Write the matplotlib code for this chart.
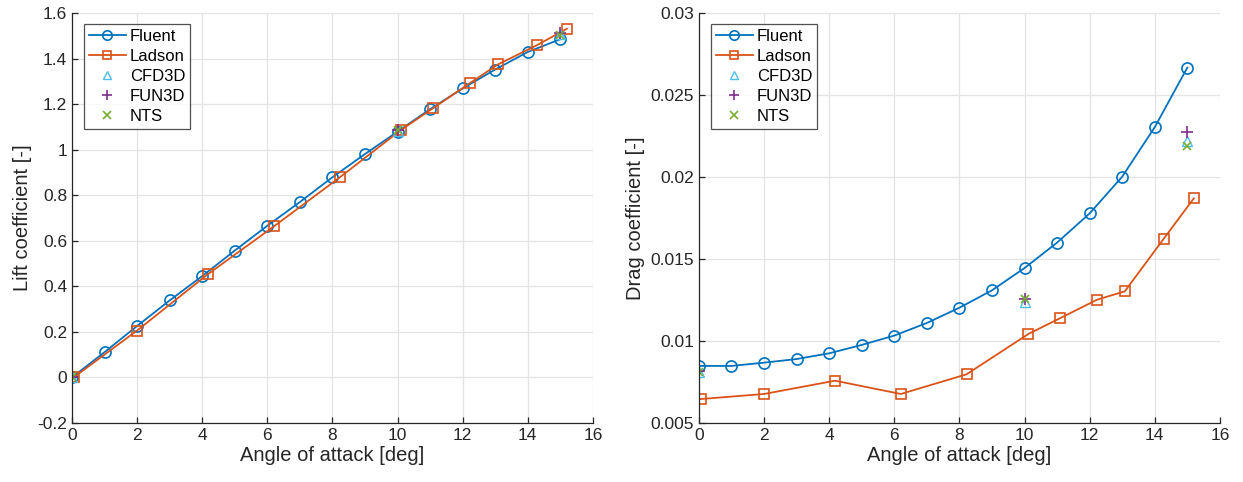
import numpy as np
import matplotlib
matplotlib.use("Agg")
import matplotlib.pyplot as plt

plt.rcParams['font.family'] = ['Liberation Sans', 'DejaVu Sans']

# Fluent results, integer angles of attack
alpha_fluent = [0, 1, 2, 3, 4, 5, 6, 7, 8, 9, 10, 11, 12, 13, 14, 15]
cl_fluent = [0.0, 0.111, 0.226, 0.338, 0.445, 0.557, 0.666, 0.770, 0.879,
             0.981, 1.079, 1.178, 1.269, 1.352, 1.429, 1.485]
cd_fluent = [0.00848, 0.00848, 0.00868, 0.0089, 0.00925, 0.00976, 0.01033,
             0.0111, 0.01203, 0.01309, 0.01445, 0.0160, 0.01778, 0.02002,
             0.02304, 0.02667]

# Ladson experiment
alpha_ladson = [0.05, 2.0, 4.18, 6.2, 8.22, 10.12, 11.08, 12.23, 13.08, 14.27, 15.2]
cl_ladson = [0.0, 0.206, 0.454, 0.663, 0.878, 1.088, 1.181, 1.293, 1.374, 1.458, 1.531]
cd_ladson = [0.00646, 0.00677, 0.00758, 0.00677, 0.00797, 0.01043, 0.01138,
             0.01252, 0.01303, 0.01622, 0.0187]

# other codes
alpha_ref = [0, 10, 15]
cl_cfd3d = [0.0, 1.083, 1.508]
cl_fun3d = [0.0, 1.085, 1.512]
cl_nts = [0.0, 1.085, 1.505]
cd_cfd3d = [0.00812, 0.01238, 0.0222]
cd_fun3d = [0.00815, 0.01255, 0.02276]
cd_nts = [0.00812, 0.01255, 0.0219]

c_blue = '#0072BD'
c_orange = '#D95319'
c_cyan = '#4DBEEE'
c_purple = '#7E2F8E'
c_green = '#77AC30'
axcol = '#262626'


def dibujar(ax, y_fluent, y_ladson, y_cfd, y_fun, y_nts):
    ax.plot(alpha_fluent, y_fluent, '-o', color=c_blue, lw=1.3, ms=8,
            mfc='none', mew=1.2, label='Fluent')
    ax.plot(alpha_ladson, y_ladson, '-s', color=c_orange, lw=1.3, ms=6.5,
            mfc='none', mew=1.2, label='Ladson')
    ax.plot(alpha_ref, y_cfd, '^', color=c_cyan, ms=7, mfc='none', mew=1.0,
            ls='none', label='CFD3D')
    ax.plot(alpha_ref, y_fun, '+', color=c_purple, ms=8, mew=1.2,
            ls='none', label='FUN3D')
    ax.plot(alpha_ref, y_nts, 'x', color=c_green, ms=6, mew=1.2,
            ls='none', label='NTS')
    ax.set_xlim(0, 16)
    ax.set_xticks(np.arange(0, 17, 2))
    ax.grid(True, color='#e3e3e3', lw=0.9)
    ax.set_axisbelow(True)
    ax.spines['top'].set_visible(False)
    ax.spines['right'].set_visible(False)
    for s in ['left', 'bottom']:
        ax.spines[s].set_color(axcol)
        ax.spines[s].set_linewidth(0.9)
    ax.tick_params(direction='in', length=4, width=0.9, colors=axcol,
                   labelsize=12.5, labelcolor='#262626')
    ax.set_xlabel('Angle of attack [deg]', fontsize=14.5, color=axcol, labelpad=2)
    leg = ax.legend(loc='upper left', fontsize=12, frameon=True, fancybox=False,
                    edgecolor=axcol, handlelength=2.2, borderpad=0.3,
                    labelspacing=0.3, handletextpad=0.25, markerscale=0.85,
                    bbox_to_anchor=(0.023, 0.973), borderaxespad=0.0)
    leg.get_frame().set_linewidth(0.9)


fig = plt.figure(figsize=(12.43, 4.82), dpi=100)
ax1 = fig.add_axes([0.0579, 0.1224, 0.4191, 0.8506])
ax2 = fig.add_axes([0.5623, 0.1224, 0.4191, 0.8506])

dibujar(ax1, cl_fluent, cl_ladson, cl_cfd3d, cl_fun3d, cl_nts)
ax1.set_ylim(-0.2, 1.6)
ax1.set_yticks(np.arange(-0.2, 1.61, 0.2))
ax1.set_yticklabels(['-0.2', '0', '0.2', '0.4', '0.6', '0.8', '1', '1.2', '1.4', '1.6'])
ax1.set_ylabel('Lift coefficient [-]', fontsize=14.5, color=axcol, labelpad=4)

dibujar(ax2, cd_fluent, cd_ladson, cd_cfd3d, cd_fun3d, cd_nts)
ax2.set_ylim(0.005, 0.03)
ax2.set_yticks(np.arange(0.005, 0.0301, 0.005))
ax2.set_yticklabels(['0.005', '0.01', '0.015', '0.02', '0.025', '0.03'])
ax2.set_ylabel('Drag coefficient [-]', fontsize=14.5, color=axcol, labelpad=4)

fig.savefig('out.png', dpi=100)
